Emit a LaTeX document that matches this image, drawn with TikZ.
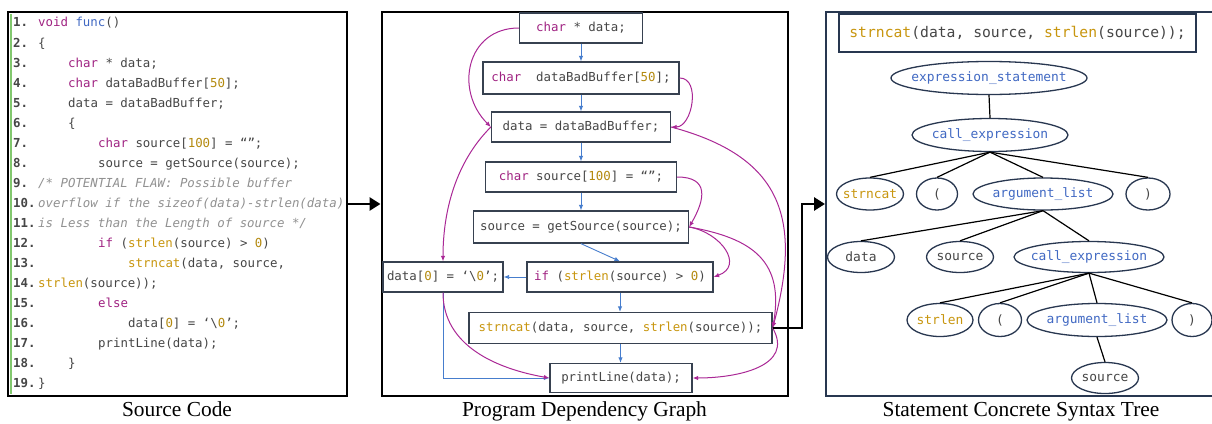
\documentclass[tikz,border=0pt]{standalone}
\usepackage{fontspec}
\setmainfont{Liberation Serif}
\newfontfamily\codefont{DejaVu Sans Mono}
\usetikzlibrary{arrows.meta,shapes.geometric,calc}
\definecolor{kwc}{RGB}{160,35,130}
\definecolor{fnc}{RGB}{200,150,15}
\definecolor{numc}{RGB}{180,138,15}
\definecolor{bluc}{RGB}{65,105,195}
\definecolor{cmc}{RGB}{145,145,145}
\definecolor{txc}{RGB}{70,70,70}
\definecolor{boxc}{RGB}{55,65,80}
\definecolor{flowc}{RGB}{70,125,205}
\definecolor{depc}{RGB}{170,40,150}
\definecolor{barc}{RGB}{130,200,110}
\definecolor{navc}{RGB}{40,55,80}
\newcommand\ckw[1]{{\color{kwc}#1}}
\newcommand\cfn[1]{{\color{fnc}#1}}
\newcommand\cnum[1]{{\color{numc}#1}}
\newcommand\cblu[1]{{\color{bluc}#1}}
\newcommand\ccm[1]{{\itshape\color{cmc}#1}}
\newcommand\zw[1]{\makebox[0pt]{#1}}
\newcommand\codeline[3]{%
  \node[lnum] (ln#1) at (13,{27+20*(#1-1)}) {#1.};
  \node[codetxt] (lc#1) at (#2,{27+20*(#1-1)}) {#3};}
\begin{document}
\begin{tikzpicture}[x=1pt,y=-1pt,
  codetxt/.style={anchor=base west, inner sep=0pt, text=txc,
    font={\codefont\fontsize{12.4}{14}\selectfont}},
  lnum/.style={codetxt, font={\codefont\bfseries\fontsize{12.4}{14}\selectfont}},
  panel/.style={draw=black, line width=2pt, inner sep=0pt},
  pdg/.style={draw=boxc, line width=1.3pt, fill=white, inner sep=2pt, text=txc,
    font={\codefont\fontsize{12.4}{14}\selectfont}},
  flow/.style={draw=flowc, line width=0.9pt, -{Latex[length=5.5pt,width=4.5pt]}},
  dep/.style={draw=depc, line width=1pt, -{Latex[length=5.5pt,width=4.5pt]}},
  bigarr/.style={draw=black, line width=2.8pt, -{Triangle[length=11pt,width=13pt]}},
  tnode/.style={ellipse, draw=navc, line width=1.3pt, inner sep=0pt, text=txc,
    font={\codefont\fontsize{12.9}{14}\selectfont}},
  tedge/.style={draw=black, line width=1.2pt},
  caption/.style={font={\fontsize{21.4}{24}\selectfont}, anchor=base, inner sep=0pt}]
\useasboundingbox (0,0) rectangle (1212,423);
\fill[white] (0,0) rectangle (1212,423);

% panels
\node[panel, minimum width=339, minimum height=384] (lp) at (177.5,204) {};
\node[panel, minimum width=406, minimum height=384] (mp) at (584.5,204) {};
\node[panel, draw=navc, minimum width=420, minimum height=384] (rp) at (1036,204) {};
\draw[barc, line width=1.6pt] (10.8,14) -- (10.8,394);

% source code
\codeline{1}{38}{\ckw{void} \cblu{func}()}
\codeline{2}{38}{\{}
\codeline{3}{68}{\ckw{char} * data;}
\codeline{4}{68}{\ckw{char} dataBadBuffer[\cnum{50}];}
\codeline{5}{68}{data = dataBadBuffer;}
\codeline{6}{68}{\{}
\codeline{7}{98}{\ckw{char} source[\cnum{100}] = “”;}
\codeline{8}{98}{source = getSource(source);}
\codeline{9}{38}{\ccm{/* POTENTIAL FLAW: Possible buffer}}
\codeline{10}{38}{\ccm{overflow if the sizeof(data)-strlen(data)}}
\codeline{11}{38}{\ccm{is Less than the Length of source */}}
\codeline{12}{98}{\ckw{if} (\cfn{strlen}(source) > \cnum{0})}
\codeline{13}{128}{\cfn{strncat}(data, source,}
\codeline{14}{38}{\cfn{strlen}(source));}
\codeline{15}{98}{\ckw{else}}
\codeline{16}{128}{data[\cnum{0}] = ‘\textbackslash\cnum{0}’;}
\codeline{17}{98}{printLine(data);}
\codeline{18}{68}{\}}
\codeline{19}{38}{\}}

% program dependency graph
\node[pdg, minimum width=123, minimum height=30] (n1) at (581,28) {\ckw{char} * data;};
\node[pdg, minimum width=196, minimum height=32] (n2) at (581,78) {\ckw{char}\ \ dataBadBuffer[\cnum{50}];};
\node[pdg, minimum width=179, minimum height=30] (n3) at (581,127) {data = dataBadBuffer;};
\node[pdg, minimum width=191, minimum height=30] (n4) at (581,177) {\ckw{char} source[\cnum{100}] = “”;};
\node[pdg, minimum width=215, minimum height=32] (n5) at (581,227) {source = getSource(source);};
\node[pdg, minimum width=186, minimum height=30] (n6) at (620,277) {\ckw{if} (\cfn{strlen}(source) > \cnum{0})};
\node[pdg, minimum width=120, minimum height=30] (n7) at (443,277) {data[\cnum{0}] = ‘\textbackslash\cnum{0}’;};
\node[pdg, minimum width=303, minimum height=31] (n8) at (620.5,328) {\cfn{strncat}(data, source, \cfn{strlen}(source));};
\node[pdg, minimum width=142, minimum height=29] (n9) at (621,378) {printLine(data);};

\draw[flow] (n1) -- (n2);
\draw[flow] (n2) -- (n3);
\draw[flow] (n3) -- (n4);
\draw[flow] (n4) -- (n5);
\draw[flow] (n5.south) -- (n6.north);
\draw[flow] (n6) -- (n7);
\draw[flow] (n6.south) -- (n6.south |- n8.north);
\draw[flow] (n8.south) -- (n8.south |- n9.north);
\draw[flow] (n7.south) |- (n9.west);

\draw[dep] (n1.west) to[out=180,in=135,looseness=1.3] (n3.west);
\draw[dep] (n2.east) to[out=0,in=0,looseness=1.1] (n3.east);
\draw[dep] (n3.west) to[out=225,in=90,looseness=0.9] (n7.north);
\draw[dep] (n3.east) to[out=-15,in=75,looseness=1.3] (n8.east);
\draw[dep] (n4.east) to[out=0,in=60,looseness=1.6] (n5.east);
\draw[dep] (n5.east) to[out=-10,in=20,looseness=1.5] (n6.east);
\draw[dep] (n5.east) to[out=-10,in=80,looseness=1.3] (n8.east);
\draw[dep] (n8.east) to[out=-60,in=0,looseness=1.2] (n9.east);
\draw[dep] (n7.south) to[out=-90,in=170,looseness=1] (n9.west);

% big arrows
\draw[bigarr] (lp.east) -- (mp.west);
\coordinate (kink) at (802,328);
\draw[bigarr] (n8.east) -- (kink) |- (rp.west);

% syntax tree
\node[draw=navc, line width=1.3pt, inner sep=0pt, minimum width=357, minimum height=38, text=txc,
  font={\codefont\fontsize{14.7}{16}\selectfont}] (stmt) at (1017.5,33)
  {\cfn{strncat}(data, source, \cfn{strlen}(source));};
\node[tnode, minimum width=196, minimum height=33] (es) at (989,78) {\zw{\cblu{expression\_statement}}};
\node[tnode, minimum width=156, minimum height=33] (ce) at (990,135) {\zw{\cblu{call\_expression}}};
\node[tnode, minimum width=67, minimum height=32] (t1) at (870,194) {\zw{\cfn{strncat}}};
\node[tnode, minimum width=41, minimum height=32] (t2) at (937,194) {\zw{(}};
\node[tnode, minimum width=140, minimum height=32] (al) at (1043,194) {\zw{\cblu{argument\_list}}};
\node[tnode, minimum width=44, minimum height=32] (t3) at (1148,194) {\zw{)}};
\node[tnode, minimum width=67, minimum height=31] (d1) at (861,257) {\zw{data}};
\node[tnode, minimum width=67, minimum height=31] (s1) at (960,257) {\zw{source}};
\node[tnode, minimum width=150, minimum height=31] (ce2) at (1089,257) {\zw{\cblu{call\_expression}}};
\node[tnode, minimum width=66, minimum height=33] (t4) at (940,320) {\zw{\cfn{strlen}}};
\node[tnode, minimum width=43, minimum height=33] (t5) at (1000,320) {\zw{(}};
\node[tnode, minimum width=140, minimum height=33] (al2) at (1097,320) {\zw{\cblu{argument\_list}}};
\node[tnode, minimum width=40, minimum height=33] (t6) at (1192,320) {\zw{)}};
\node[tnode, minimum width=67, minimum height=31] (s2) at (1105,378) {\zw{source}};

\draw[tedge] (es.south) -- (ce.north);
\foreach \c in {t1,t2,al,t3} \draw[tedge] (ce.south) -- (\c.north);
\foreach \c in {d1,s1,ce2} \draw[tedge] (al.south) -- (\c.north);
\foreach \c in {t4,t5,al2,t6} \draw[tedge] (ce2.south) -- (\c.north);
\draw[tedge] (al2.south) -- (s2.north);

% captions
\node[caption] (cap1) at (177,416.5) {Source Code};
\node[caption] (cap2) at (584.5,416.5) {Program Dependency Graph};
\node[caption] (cap3) at (1021,416.5) {Statement Concrete Syntax Tree};
\end{tikzpicture}
\end{document}
